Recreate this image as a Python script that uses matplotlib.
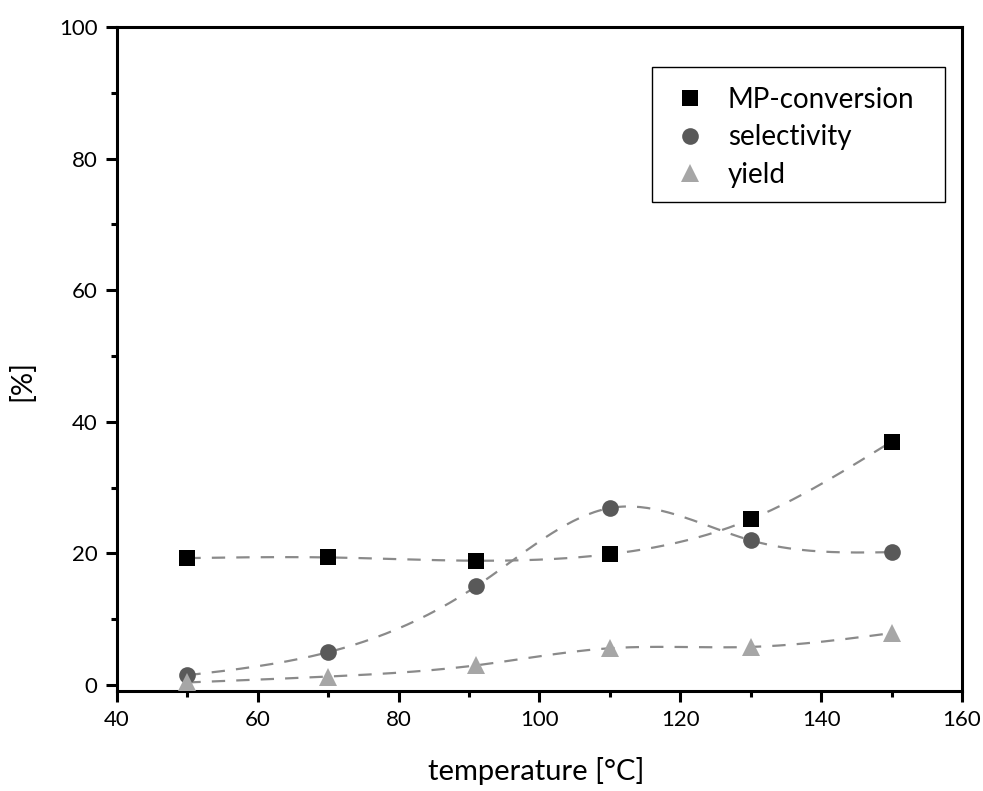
import numpy as np
import matplotlib
matplotlib.use('Agg')
import matplotlib.pyplot as plt
from matplotlib.patches import Rectangle
from matplotlib.ticker import MultipleLocator

# =============================================================================
# Data
# =============================================================================

temperature = [50, 70, 91, 110, 130, 150]
mp_conversion = [19.3, 19.4, 18.9, 19.9, 25.2, 37.0]
selectivity = [1.5, 5.0, 15.0, 26.9, 22.0, 20.2]
yield_ = [0.4, 1.3, 3.0, 5.6, 5.8, 7.9]

labels = ['MP-conversion', 'selectivity', 'yield']


def natural_spline(x, y, n=200):
    # natural cubic spline through the measured points (smooth dashed guide)
    x = np.asarray(x, float)
    y = np.asarray(y, float)
    m = len(x)
    h = np.diff(x)
    A = np.zeros((m, m))
    b = np.zeros(m)
    A[0, 0] = A[-1, -1] = 1
    for i in range(1, m - 1):
        A[i, i - 1] = h[i - 1]
        A[i, i] = 2 * (h[i - 1] + h[i])
        A[i, i + 1] = h[i]
        b[i] = 6 * ((y[i + 1] - y[i]) / h[i] - (y[i] - y[i - 1]) / h[i - 1])
    M = np.linalg.solve(A, b)
    xs = np.linspace(x[0], x[-1], n)
    k = np.clip(np.searchsorted(x, xs) - 1, 0, m - 2)
    t0 = x[k + 1] - xs
    t1 = xs - x[k]
    hk = h[k]
    ys = (M[k] * t0**3 + M[k + 1] * t1**3) / (6 * hk) \
        + (y[k] / hk - M[k] * hk / 6) * t0 + (y[k + 1] / hk - M[k + 1] * hk / 6) * t1
    return xs, ys


# =============================================================================
# Plot
# =============================================================================

plt.rcParams['font.family'] = ['Lato', 'DejaVu Sans']

fig = plt.figure(figsize=(9.83, 7.91), dpi=100)
ax = fig.add_axes([0.119, 0.1264, 0.8596, 0.8395])

line_kw = dict(color='#8a8a8a', lw=1.6, dashes=(6, 5), zorder=1)
series = [
    (mp_conversion, 's', '#000000', 11),
    (selectivity, 'o', '#595959', 12),
    (yield_, '^', '#a6a6a6', 13),
]

handles = []
for (vals, mk, col, ms), lab in zip(series, labels):
    xs, ys = natural_spline(temperature, vals)
    ax.plot(xs, ys, **line_kw)
    h, = ax.plot(temperature, vals, ls='none', marker=mk, color=col,
                 markersize=ms, markeredgewidth=0, zorder=3, label=lab)
    handles.append(h)

ax.set_xlim(40, 160)
ax.set_ylim(-0.9, 100)
ax.xaxis.set_major_locator(MultipleLocator(20))
ax.xaxis.set_minor_locator(MultipleLocator(10))
ax.yaxis.set_major_locator(MultipleLocator(20))
ax.yaxis.set_minor_locator(MultipleLocator(10))

for s in ax.spines.values():
    s.set_linewidth(2.2)

ax.tick_params(which='both', direction='out', width=2.2, top=False, right=False,
               labelsize=16, colors='black')
ax.tick_params(which='major', length=8, pad=6)
ax.tick_params(which='minor', length=4)

ax.set_xlabel('temperature [°C]', fontsize=21)
ax.set_ylabel('[%]', fontsize=21)
ax.xaxis.set_label_coords(0.496, -0.1)
ax.yaxis.set_label_coords(-0.097, 0.467)

# legend entries without frame, frame drawn separately to match the box
leg = ax.legend(handles=handles, loc='upper left', bbox_to_anchor=(0.6698, 0.9095),
                fontsize=20, frameon=False, handlelength=0.5, handletextpad=1.12,
                borderpad=0, labelspacing=0.41, borderaxespad=0)
ax.add_patch(Rectangle((0.6331, 0.7364), 0.3467, 0.2034, transform=ax.transAxes,
                       fill=False, edgecolor='black', lw=1.0, zorder=5))

fig.savefig('out.png', dpi=100)
